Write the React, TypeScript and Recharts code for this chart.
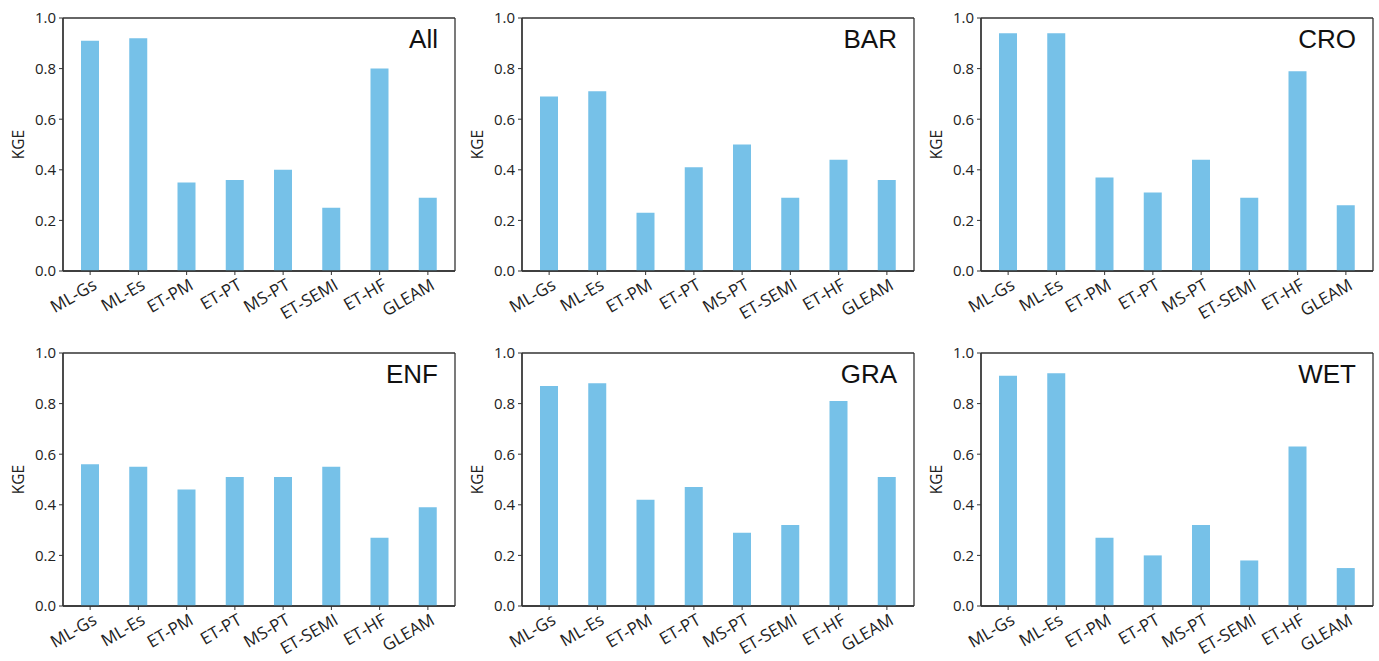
import React from 'react';
import { BarChart, Bar, XAxis, YAxis, Label, CartesianGrid } from 'recharts';

const categories = ['ML-Gs', 'ML-Es', 'ET-PM', 'ET-PT', 'MS-PT', 'ET-SEMI', 'ET-HF', 'GLEAM'];
const yTicks = [0, 0.2, 0.4, 0.6, 0.8, 1.0];

const allValues = [0.91, 0.92, 0.35, 0.36, 0.40, 0.25, 0.80, 0.29];
const barValues = [0.69, 0.71, 0.23, 0.41, 0.50, 0.29, 0.44, 0.36];
const croValues = [0.94, 0.94, 0.37, 0.31, 0.44, 0.29, 0.79, 0.26];
const enfValues = [0.56, 0.55, 0.46, 0.51, 0.51, 0.55, 0.27, 0.39];
const graValues = [0.87, 0.88, 0.42, 0.47, 0.29, 0.32, 0.81, 0.51];
const wetValues = [0.91, 0.92, 0.27, 0.20, 0.32, 0.18, 0.63, 0.15];

const panelTitles = ['All', 'BAR', 'CRO', 'ENF', 'GRA', 'WET'];
const panelValues = [allValues, barValues, croValues, enfValues, graValues, wetValues];

const BAR_COLOR = '#76C1E8';
const INK = '#222222';
const FRAME = '#333333';
const FONT = '"Open Sans", "DejaVu Sans", sans-serif';
const XTICK_FS = 17;
const YTICK_FS = 15;

const PANEL_W = 460;
const panelLeft = [0, 459, 918];
const panelTop = [0, 335];
const panelHeight = [330, 326];

const XTick = (props: any) => {
  const { x, y, payload } = props;
  return (
    <g transform={`translate(${x + 2},${y + 1})`}>
      <text
        x={0}
        y={0}
        dy="0.7em"
        textAnchor="end"
        transform="rotate(-30)"
        style={{ fontSize: XTICK_FS, fontFamily: FONT, fill: INK }}
      >
        {payload.value}
      </text>
    </g>
  );
};

const KgeLabel = (props: any) => {
  const vb = props.viewBox || { x: 0, y: 0, width: 63, height: 253 };
  const cx = vb.x + 18;
  const cy = vb.y + vb.height / 2;
  return (
    <text
      x={cx}
      y={cy}
      textAnchor="middle"
      dominantBaseline="central"
      transform={`rotate(-90, ${cx}, ${cy})`}
      style={{ fontSize: 15.5, fontFamily: FONT, fill: INK }}
    >
      KGE
    </text>
  );
};

const frameH = ({ offset }: any) => [offset.top, offset.top + offset.height];
const frameV = ({ offset }: any) => [offset.left, offset.left + offset.width];

function Panel({ title, values, left, top, height }: { title: string; values: number[]; left: number; top: number; height: number }) {
  const data = categories.map((name, i) => ({ name, kge: values[i] }));
  return (
    <div style={{ position: 'absolute', left, top, width: PANEL_W, height }}>
      <BarChart
        width={PANEL_W}
        height={height}
        data={data}
        margin={{ top: 18, right: 5, bottom: 0, left: 0 }}
        barCategoryGap={0}
      >
        <CartesianGrid
          stroke={FRAME}
          strokeWidth={1.3}
          fill="none"
          horizontalCoordinatesGenerator={frameH}
          verticalCoordinatesGenerator={frameV}
        />
        <XAxis
          dataKey="name"
          interval={0}
          padding={{ left: 3, right: 3 }}
          height={height - 271}
          tickSize={4}
          tickMargin={2}
          axisLine={{ stroke: FRAME, strokeWidth: 1.3 }}
          tickLine={{ stroke: FRAME }}
          tick={<XTick />}
        />
        <YAxis
          domain={[0, 1]}
          ticks={yTicks}
          width={63}
          tickSize={4}
          tickMargin={3}
          tickFormatter={(v: number) => v.toFixed(1)}
          axisLine={{ stroke: FRAME, strokeWidth: 1.3 }}
          tickLine={{ stroke: FRAME }}
          tick={{ fontSize: YTICK_FS, fontFamily: FONT, fill: INK }}
        >
          <Label content={<KgeLabel />} position="insideLeft" />
        </YAxis>
        <Bar dataKey="kge" fill={BAR_COLOR} barSize={18} isAnimationActive={false} />
      </BarChart>
      <div
        style={{
          position: 'absolute',
          right: PANEL_W - 438,
          top: 26,
          fontFamily: '"Liberation Sans", Arial, sans-serif',
          fontSize: 26,
          lineHeight: '26px',
          color: '#111',
          pointerEvents: 'none',
        }}
      >
        {title}
      </div>
    </div>
  );
}

export default function App() {
  return (
    <div style={{ position: 'absolute', left: 0, top: 0, width: 1379, height: 661, background: '#fff', overflow: 'hidden' }}>
      {panelTitles.map((t, i) => (
        <Panel
          key={t}
          title={t}
          values={panelValues[i]}
          left={panelLeft[i % 3]}
          top={panelTop[Math.floor(i / 3)]}
          height={panelHeight[Math.floor(i / 3)]}
        />
      ))}
    </div>
  );
}
